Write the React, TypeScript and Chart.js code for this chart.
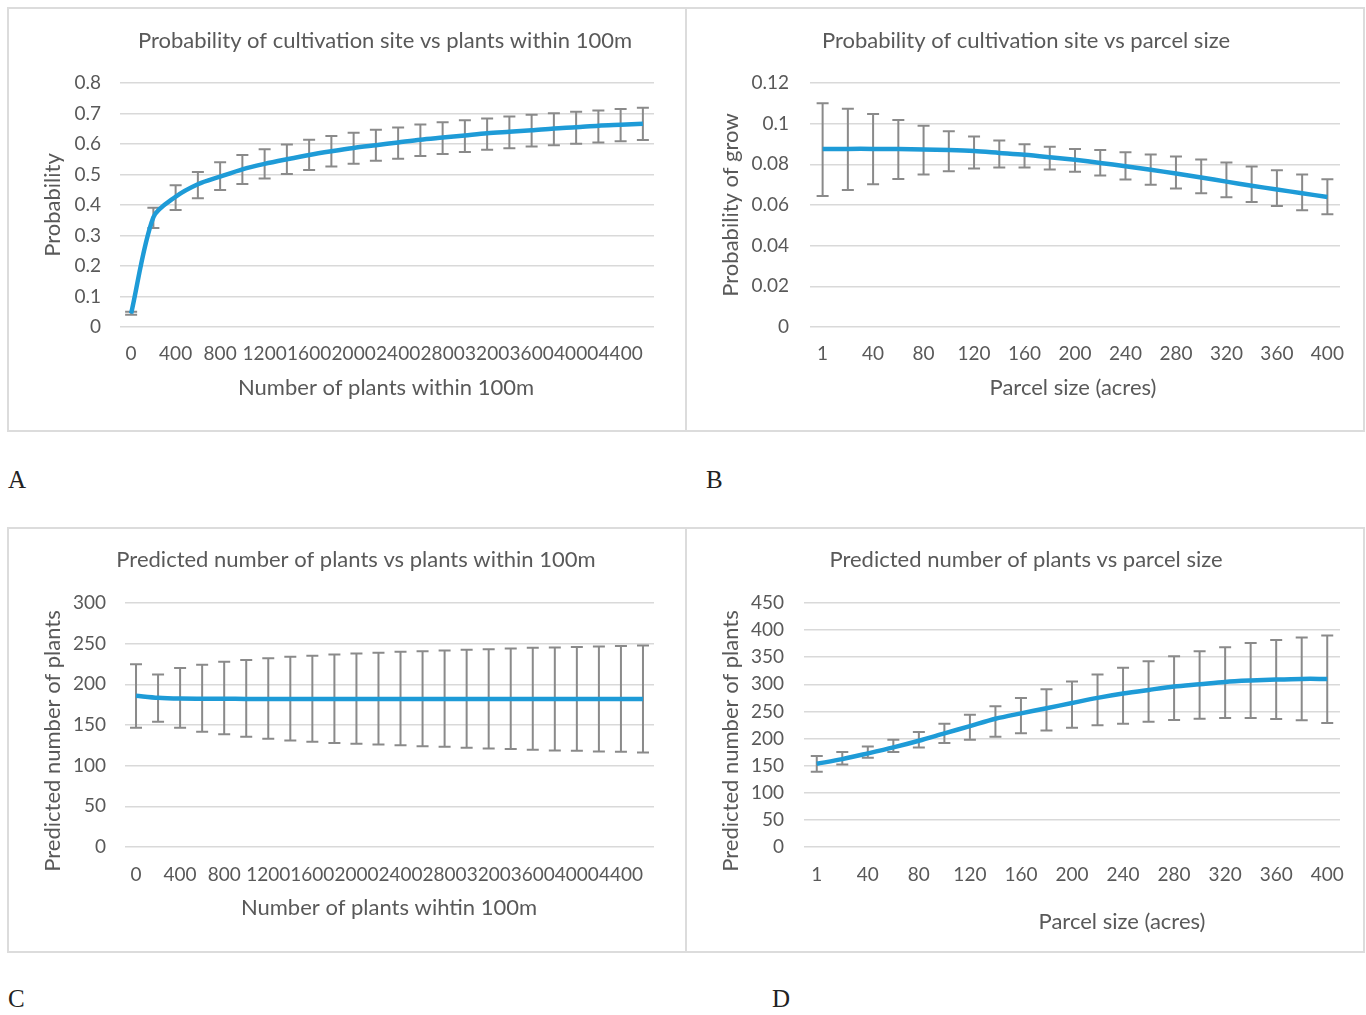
import React, { useEffect, useRef } from "react";
import { Chart, registerables } from "chart.js";

Chart.register(...registerables);

// ---------- data ----------
const plantCategories = ["0", "200", "400", "600", "800", "1000", "1200", "1400", "1600", "1800", "2000", "2200", "2400", "2600", "2800", "3000", "3200", "3400", "3600", "3800", "4000", "4200", "4400", "4600"];
const parcelCategories = ["1", "20", "40", "60", "80", "100", "120", "140", "160", "180", "200", "220", "240", "260", "280", "300", "320", "340", "360", "380", "400"];

const probPlantsMean = [0.044, 0.36, 0.427, 0.468, 0.493, 0.517, 0.535, 0.55, 0.564, 0.576, 0.587, 0.596, 0.605, 0.614, 0.621, 0.628, 0.635, 0.64, 0.645, 0.651, 0.655, 0.66, 0.663, 0.666];
const probPlantsLow = [0.04, 0.325, 0.384, 0.422, 0.449, 0.469, 0.487, 0.502, 0.515, 0.526, 0.535, 0.545, 0.552, 0.561, 0.567, 0.574, 0.581, 0.586, 0.592, 0.596, 0.601, 0.605, 0.609, 0.613];
const probPlantsHigh = [0.05, 0.391, 0.465, 0.508, 0.54, 0.564, 0.583, 0.598, 0.614, 0.626, 0.637, 0.647, 0.654, 0.664, 0.671, 0.678, 0.684, 0.69, 0.696, 0.701, 0.706, 0.71, 0.715, 0.719];

const probParcelMean = [0.0875, 0.0876, 0.0876, 0.0875, 0.0873, 0.087, 0.0865, 0.0856, 0.0847, 0.0835, 0.0822, 0.0807, 0.0791, 0.0773, 0.0755, 0.0735, 0.0715, 0.0695, 0.0676, 0.0658, 0.0639];
const probParcelLow = [0.0644, 0.0674, 0.0702, 0.0728, 0.075, 0.0766, 0.0779, 0.0784, 0.0784, 0.0774, 0.0763, 0.0745, 0.0725, 0.07, 0.0681, 0.0658, 0.0638, 0.0615, 0.0595, 0.0574, 0.0554];
const probParcelHigh = [0.11, 0.1073, 0.1047, 0.1018, 0.099, 0.0963, 0.0937, 0.0917, 0.0899, 0.0886, 0.0876, 0.087, 0.086, 0.0848, 0.0838, 0.0824, 0.0809, 0.0789, 0.0771, 0.075, 0.0727];

const countPlantsMean = [186, 183.5, 182.5, 182.3, 182.2, 182.1, 182, 182, 182, 182, 182, 182, 182, 182, 182, 182, 182, 182, 182, 182, 182, 182, 182, 182];
const countPlantsLow = [146.7, 154, 146.7, 141.8, 138.5, 135.6, 133, 131, 129.5, 127.8, 127, 126, 125, 124, 123.3, 122, 121, 120.4, 119.6, 118.8, 118.4, 117.5, 117, 116.3];
const countPlantsHigh = [224.8, 212, 220, 224, 227.7, 230, 232, 233.8, 235, 236.7, 238, 238.8, 240, 240.8, 241.6, 242.5, 243, 244, 245, 245.3, 245.8, 246.6, 247, 247.8];

const countParcelMean = [153.5, 162, 172.6, 183.7, 196, 209.6, 223, 236.5, 246.5, 256, 265.5, 275, 283, 289.7, 296, 300.2, 304.5, 307, 308.8, 310, 310];
const countParcelLow = [138.7, 152.3, 164.6, 175, 183.7, 191.7, 197.9, 203.4, 209.6, 215, 220, 224.4, 227.5, 231, 234, 236.7, 238, 238, 236, 233.6, 228.7];
const countParcelHigh = [167.7, 175, 185.5, 197.9, 212, 227.5, 244, 259.5, 275, 291, 305, 318, 330.4, 342.7, 352, 361, 368.6, 376, 381.6, 386.5, 390];

// ---------- style ----------
const FONT = "Lato, 'Open Sans', sans-serif";
const TEXT_COLOR = "#595959";
const LINE_COLOR = "#1e9bd7";
const ERR_COLOR = "#8a8a8a";
const GRID_COLOR = "#d9d9d9";

type Box = { x: number; y: number; w: number; h: number };
type Area = { l: number; t: number; r: number; b: number };

type PanelProps = {
  box: Box;
  area: Area;
  categories: string[];
  mean: number[];
  low: number[];
  high: number[];
  yMax: number;
  yStep: number;
  decimals: number;
  title: string;
  xTitle: string;
  yTitle: string;
  titlePos: [number, number];
  xTitlePos: [number, number];
  yTitlePos: [number, number];
  xTickPad: number;
  yTickPad: number;
};

function Panel(p: PanelProps) {
  const ref = useRef<HTMLCanvasElement | null>(null);

  useEffect(() => {
    if (!ref.current) return;
    const { box, area } = p;

    const errorBars = {
      id: "errorBars",
      beforeDatasetsDraw(chart: any) {
        const meta = chart.getDatasetMeta(0);
        const ys = chart.scales.y;
        const ctx = chart.ctx;
        const cap = 6;
        ctx.save();
        ctx.strokeStyle = ERR_COLOR;
        ctx.lineWidth = 2;
        meta.data.forEach((pt: any, i: number) => {
          const x = pt.x;
          const y1 = ys.getPixelForValue(p.low[i]);
          const y2 = ys.getPixelForValue(p.high[i]);
          ctx.beginPath();
          ctx.moveTo(x, y1);
          ctx.lineTo(x, y2);
          ctx.moveTo(x - cap, y1);
          ctx.lineTo(x + cap, y1);
          ctx.moveTo(x - cap, y2);
          ctx.lineTo(x + cap, y2);
          ctx.stroke();
        });
        ctx.restore();
      },
    };

    const texts = {
      id: "panelTexts",
      afterDraw(chart: any) {
        const ctx = chart.ctx;
        const items = [
          { text: p.title, pos: p.titlePos, size: 22, rot: false },
          { text: p.xTitle, pos: p.xTitlePos, size: 22, rot: false },
          { text: p.yTitle, pos: p.yTitlePos, size: 22, rot: true },
        ];
        items.forEach((it) => {
          ctx.save();
          ctx.font = `${it.size}px ${FONT}`;
          ctx.fillStyle = TEXT_COLOR;
          ctx.textAlign = "center";
          ctx.textBaseline = "middle";
          ctx.translate(it.pos[0] - box.x, it.pos[1] - box.y);
          if (it.rot) ctx.rotate(-Math.PI / 2);
          ctx.fillText(it.text, 0, 0);
          ctx.restore();
        });
      },
    };

    const chart = new Chart(ref.current, {
      type: "line",
      data: {
        labels: p.categories,
        datasets: [
          {
            data: p.mean,
            borderColor: LINE_COLOR,
            backgroundColor: LINE_COLOR,
            borderWidth: 4.5,
            pointRadius: 0,
            tension: 0.3,
            fill: false,
          },
        ],
      },
      options: {
        responsive: false,
        animation: false,
        devicePixelRatio: 1,
        layout: {
          padding: {
            left: 0,
            top: area.t - box.y,
            right: box.x + box.w - area.r,
            bottom: 0,
          },
        },
        plugins: {
          legend: { display: false },
          title: { display: false },
          tooltip: { enabled: false },
        },
        scales: {
          x: {
            type: "category",
            offset: true,
            grid: { display: false },
            border: { display: false },
            ticks: {
              autoSkip: false,
              maxRotation: 0,
              minRotation: 0,
              padding: p.xTickPad,
              color: TEXT_COLOR,
              font: { family: FONT, size: 19 },
              callback: function (this: any, val: any, idx: number) {
                return idx % 2 === 0 ? this.getLabelForValue(val) : "";
              },
            },
            afterFit: (s: any) => {
              s.height = box.y + box.h - area.b;
            },
          },
          y: {
            min: 0,
            max: p.yMax,
            grid: { color: GRID_COLOR, lineWidth: 1.5, drawTicks: false },
            border: { display: false },
            ticks: {
              stepSize: p.yStep,
              padding: p.yTickPad,
              color: TEXT_COLOR,
              font: { family: FONT, size: 19 },
              callback: (v: any) => String(+Number(v).toFixed(p.decimals)),
            },
            afterFit: (s: any) => {
              s.width = area.l - box.x;
            },
          },
        },
      },
      plugins: [errorBars, texts],
    } as any);

    return () => chart.destroy();
  }, []);

  const { box } = p;
  return (
    <>
      <canvas
        ref={ref}
        width={box.w}
        height={box.h}
        style={{ position: "absolute", left: box.x, top: box.y, width: box.w, height: box.h }}
      />
      <div
        style={{
          position: "absolute",
          left: box.x,
          top: box.y,
          width: box.w,
          height: box.h,
          boxSizing: "border-box",
          border: "2px solid #dcdcdc",
          pointerEvents: "none",
        }}
      />
    </>
  );
}

const letterStyle = (x: number, y: number): React.CSSProperties => ({
  position: "absolute",
  left: x,
  top: y,
  fontFamily: "'Liberation Serif', 'DejaVu Serif', serif",
  fontSize: 25,
  color: "#222",
  lineHeight: "26px",
});

export default function App() {
  return (
    <div style={{ position: "absolute", left: 0, top: 0, width: 1366, height: 1015, background: "#fff" }}>
      <Panel
        box={{ x: 7, y: 7, w: 680, h: 425 }}
        area={{ l: 120, t: 83, r: 654, b: 327 }}
        categories={plantCategories}
        mean={probPlantsMean}
        low={probPlantsLow}
        high={probPlantsHigh}
        yMax={0.8}
        yStep={0.1}
        decimals={1}
        title="Probability of cultivation site vs plants within 100m"
        xTitle="Number of plants within 100m"
        yTitle="Probability"
        titlePos={[385, 41]}
        xTitlePos={[386, 388]}
        yTitlePos={[53, 205]}
        xTickPad={7}
        yTickPad={19}
      />
      <Panel
        box={{ x: 685, y: 7, w: 680, h: 425 }}
        area={{ l: 810, t: 83, r: 1340, b: 327 }}
        categories={parcelCategories}
        mean={probParcelMean}
        low={probParcelLow}
        high={probParcelHigh}
        yMax={0.12}
        yStep={0.02}
        decimals={2}
        title="Probability of cultivation site vs parcel size"
        xTitle="Parcel size (acres)"
        yTitle="Probability of grow"
        titlePos={[1026, 41]}
        xTitlePos={[1073, 388]}
        yTitlePos={[731, 205]}
        xTickPad={7}
        yTickPad={21}
      />
      <Panel
        box={{ x: 7, y: 527, w: 680, h: 426 }}
        area={{ l: 125, t: 603, r: 654, b: 847 }}
        categories={plantCategories}
        mean={countPlantsMean}
        low={countPlantsLow}
        high={countPlantsHigh}
        yMax={300}
        yStep={50}
        decimals={0}
        title="Predicted number of plants vs plants within 100m"
        xTitle="Number of plants wihtin 100m"
        yTitle="Predicted number of plants"
        titlePos={[356, 560]}
        xTitlePos={[389, 908]}
        yTitlePos={[53, 741]}
        xTickPad={8}
        yTickPad={19}
      />
      <Panel
        box={{ x: 685, y: 527, w: 680, h: 426 }}
        area={{ l: 804, t: 603, r: 1340, b: 847 }}
        categories={parcelCategories}
        mean={countParcelMean}
        low={countParcelLow}
        high={countParcelHigh}
        yMax={450}
        yStep={50}
        decimals={0}
        title="Predicted number of plants vs parcel size"
        xTitle="Parcel size (acres)"
        yTitle="Predicted number of plants"
        titlePos={[1026, 560]}
        xTitlePos={[1122, 922]}
        yTitlePos={[731, 741]}
        xTickPad={8}
        yTickPad={20}
      />
      <div style={letterStyle(8, 467)}>A</div>
      <div style={letterStyle(706, 467)}>B</div>
      <div style={letterStyle(8, 986)}>C</div>
      <div style={letterStyle(772, 986)}>D</div>
    </div>
  );
}
